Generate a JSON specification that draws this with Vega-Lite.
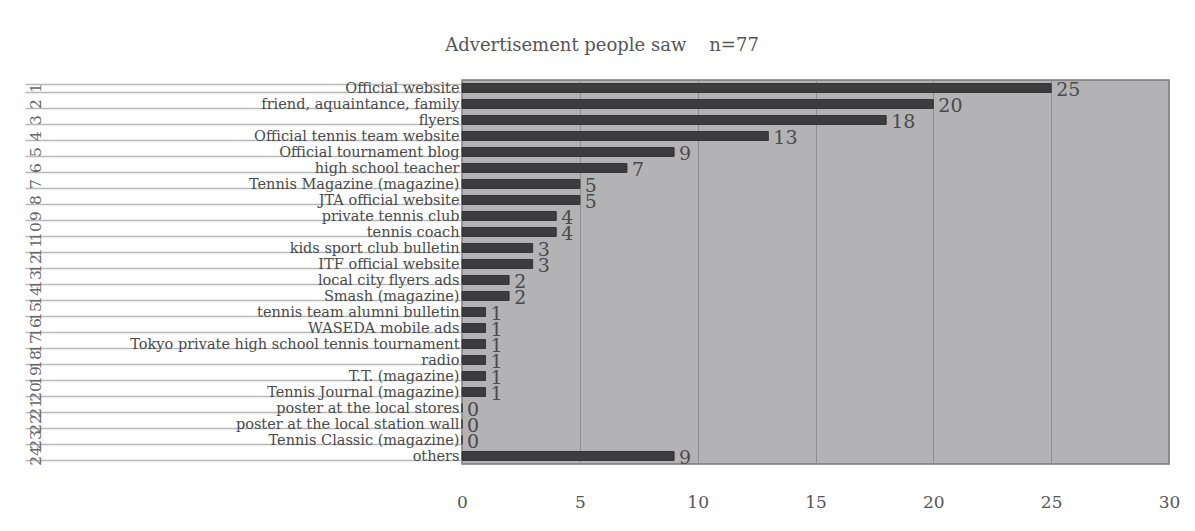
{
  "$schema": "https://vega.github.io/schema/vega-lite/v6.json",
  "autosize": "none",
  "width": 707,
  "height": 384,
  "padding": {"left": 462, "top": 80, "right": 26, "bottom": 67},
  "background": "white",
  "title": {
    "text": "Advertisement people saw\u00a0\u00a0\u00a0\u00a0n=77",
    "anchor": "middle",
    "frame": "bounds",
    "offset": 17,
    "font": "DejaVu Serif",
    "fontSize": 18,
    "fontWeight": "normal",
    "color": "#555555"
  },
  "data": {
    "values": [
      {"rank": 1, "source": "Official website", "count": 25},
      {"rank": 2, "source": "friend, aquaintance, family", "count": 20},
      {"rank": 3, "source": "flyers", "count": 18},
      {"rank": 4, "source": "Official tennis team website", "count": 13},
      {"rank": 5, "source": "Official tournament blog", "count": 9},
      {"rank": 6, "source": "high school teacher", "count": 7},
      {"rank": 7, "source": "Tennis Magazine (magazine)", "count": 5},
      {"rank": 8, "source": "JTA official website", "count": 5},
      {"rank": 9, "source": "private tennis club", "count": 4},
      {"rank": 10, "source": "tennis coach", "count": 4},
      {"rank": 11, "source": "kids sport club bulletin", "count": 3},
      {"rank": 12, "source": "ITF official website", "count": 3},
      {"rank": 13, "source": "local city flyers ads", "count": 2},
      {"rank": 14, "source": "Smash (magazine)", "count": 2},
      {"rank": 15, "source": "tennis team alumni bulletin", "count": 1},
      {"rank": 16, "source": "WASEDA mobile ads", "count": 1},
      {"rank": 17, "source": "Tokyo private high school tennis tournament", "count": 1},
      {"rank": 18, "source": "radio", "count": 1},
      {"rank": 19, "source": "T.T. (magazine)", "count": 1},
      {"rank": 20, "source": "Tennis Journal (magazine)", "count": 1},
      {"rank": 21, "source": "poster at the local stores", "count": 0},
      {"rank": 22, "source": "poster at the local station wall", "count": 0},
      {"rank": 23, "source": "Tennis Classic (magazine)", "count": 0},
      {"rank": 24, "source": "others", "count": 9}
    ]
  },
  "layer": [
    {
      "mark": {"type": "bar", "color": "#3d3d3d", "stroke": "#262626", "strokeWidth": 0.8},
      "encoding": {
        "y": {
          "field": "source",
          "type": "nominal",
          "sort": {"field": "rank", "op": "min"},
          "scale": {"type": "band", "paddingInner": 0.44, "paddingOuter": 0.22},
          "axis": {
            "orient": "left",
            "title": null,
            "domain": false,
            "ticks": true,
            "tickBand": "extent",
            "tickSize": 437,
            "tickColor": "#b8b8b8",
            "tickWidth": 1.5,
            "labelPadding": -434,
            "labelAlign": "right",
            "labelBaseline": "middle",
            "labelFont": "DejaVu Serif",
            "labelFontSize": 14.5,
            "labelColor": "#4a4a4a",
            "labelLimit": 0,
            "grid": false
          }
        },
        "x": {
          "field": "count",
          "type": "quantitative",
          "scale": {"domain": [0, 30], "nice": false},
          "axis": {
            "title": null,
            "values": [0, 5, 10, 15, 20, 25, 30],
            "domain": false,
            "ticks": false,
            "labelPadding": 30,
            "labelFont": "DejaVu Serif",
            "labelFontSize": 17,
            "labelColor": "#555555",
            "labelFlush": false,
            "grid": true,
            "gridColor": "#8e8e8e",
            "gridWidth": 1
          }
        }
      }
    },
    {
      "mark": {"type": "text", "align": "left", "baseline": "middle", "dx": 5, "dy": 2, "font": "DejaVu Serif", "fontSize": 19, "color": "#4a4a4a"},
      "encoding": {
        "y": {
          "field": "rank",
          "type": "ordinal",
          "scale": {"type": "band", "paddingInner": 0.44, "paddingOuter": 0.22},
          "axis": {
            "orient": "left",
            "title": null,
            "domain": false,
            "ticks": false,
            "grid": false,
            "labelAngle": -90,
            "labelAlign": "center",
            "labelBaseline": "middle",
            "labelPadding": 427,
            "labelFont": "DejaVu Serif",
            "labelFontSize": 15.5,
            "labelColor": "#666666"
          }
        },
        "x": {"field": "count", "type": "quantitative"},
        "text": {"field": "count", "type": "quantitative"}
      }
    }
  ],
  "resolve": {"scale": {"y": "independent"}},
  "config": {
    "view": {"fill": "#b3b3b5", "stroke": "#7a7a7a", "strokeWidth": 1.5}
  }
}
